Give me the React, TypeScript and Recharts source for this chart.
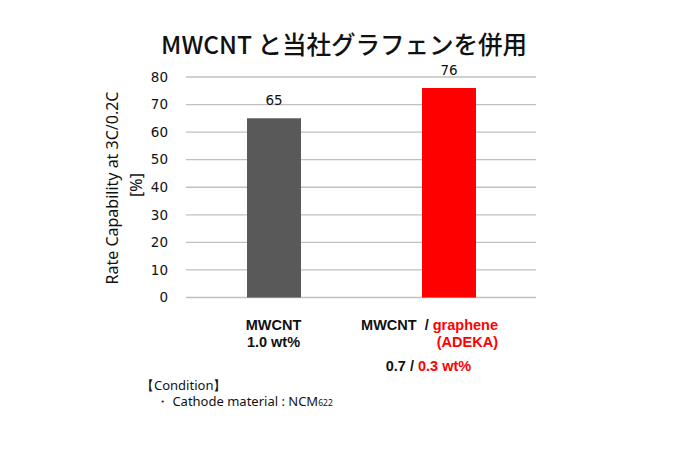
import React from "react";
import { BarChart, Bar, XAxis, YAxis, CartesianGrid, LabelList, Cell } from "recharts";

const categories = ["MWCNT 1.0 wt%", "MWCNT / graphene (ADEKA) 0.7 / 0.3 wt%"];
const rateValues = [65, 76];
const barColors = ["#595959", "#ff0000"];
const yTicks = [0, 10, 20, 30, 40, 50, 60, 70, 80];
const titleText = "MWCNT と当社グラフェンを併用";
const yLabelLines = ["Rate Capability at 3C/0.2C", "[%]"];
const conditionLines = ["【Condition】", "・ Cathode material : NCM"];
const conditionSub = "622";

const data = categories.map((c, i) => ({ name: c, value: rateValues[i], color: barColors[i] }));

const BLACK = "#111111";
const RED = "#ff0000";
const FONT = "'Noto Sans', 'Open Sans', sans-serif";
const NUM_FONT = "'DejaVu Sans', sans-serif";
const LBL_FONT = "'Liberation Sans', Arial, sans-serif";

const XTick = (props: any) => {
  const { x, y, payload } = props;
  const idx = payload.index;
  const common = { fontFamily: LBL_FONT, fontWeight: 700, fontSize: 14.5 };
  if (idx === 0) {
    return (
      <g>
        <text x={x} y={y + 24.5} textAnchor="middle" fill={BLACK} {...common}>MWCNT</text>
        <text x={x} y={y + 41.5} textAnchor="middle" fill={BLACK} {...common}>1.0 wt%</text>
      </g>
    );
  }
  return (
    <g>
      <text x={x + 49.5} y={y + 24.5} textAnchor="end" {...common}>
        <tspan fill={BLACK}>{"MWCNT\u00A0\u00A0/\u00A0"}</tspan>
        <tspan fill={RED}>graphene</tspan>
      </text>
      <text x={x + 49.5} y={y + 41.5} textAnchor="end" fill={RED} {...common}>(ADEKA)</text>
      <text x={x - 20} y={y + 65.5} textAnchor="middle" {...common}>
        <tspan fill={BLACK}>{"0.7 /\u00A0"}</tspan>
        <tspan fill={RED}>0.3 wt%</tspan>
      </text>
    </g>
  );
};

const YLabel = () => (
  <g>
    <text
      x={0}
      y={0}
      transform="translate(118,188) rotate(-90)"
      textAnchor="middle"
      fill={BLACK}
      fontFamily={FONT}
      fontSize={16}
    >
      {yLabelLines[0]}
    </text>
    <text
      x={0}
      y={0}
      transform="translate(142,185) rotate(-90)"
      textAnchor="middle"
      fill={BLACK}
      fontFamily={FONT}
      fontSize={16}
    >
      {yLabelLines[1]}
    </text>
  </g>
);

export default function App() {
  return (
    <div style={{ position: "absolute", left: 0, top: 0, width: 680, height: 464, background: "#fff" }}>
      <BarChart
        width={680}
        height={464}
        data={data}
        margin={{ top: 77, right: 144, bottom: 136.5, left: 126 }}
      >
        <CartesianGrid vertical={false} stroke="#c0c0c0" strokeWidth={1.3} />
        <XAxis
          dataKey="name"
          axisLine={false}
          tickLine={false}
          interval={0}
          height={30}
          tick={<XTick />}
        />
        <YAxis
          width={60}
          domain={[0, 80]}
          ticks={yTicks}
          axisLine={false}
          tickLine={false}
          tickMargin={12}
          tick={{ fill: BLACK, fontSize: 13.5, fontFamily: NUM_FONT }}
          label={<YLabel />}
        />
        <Bar dataKey="value" barSize={54} isAnimationActive={false}>
          {data.map((d, i) => (
            <Cell key={i} fill={d.color} />
          ))}
          <LabelList
            dataKey="value"
            position="top"
            offset={13}
            fill={BLACK}
            fontSize={13.5}
            fontFamily={NUM_FONT}
          />
        </Bar>
      </BarChart>
      <svg
        width={680}
        height={464}
        style={{ position: "absolute", left: 0, top: 0, pointerEvents: "none" }}
      >
        <text
          x={344}
          y={54}
          textAnchor="middle"
          fill={BLACK}
          fontFamily="'Noto Sans CJK JP', 'Noto Sans', sans-serif"
          fontSize={24.5}
          fontWeight={500}
        >
          {titleText}
        </text>
        <text x={141} y={390} fill={BLACK} fontFamily={FONT} fontSize={13}>
          {conditionLines[0]}
        </text>
        <text x={156} y={406} fill={BLACK} fontFamily={FONT} fontSize={13}>
          {conditionLines[1]}
          <tspan fontSize={8.5}>{conditionSub}</tspan>
        </text>
      </svg>
    </div>
  );
}
